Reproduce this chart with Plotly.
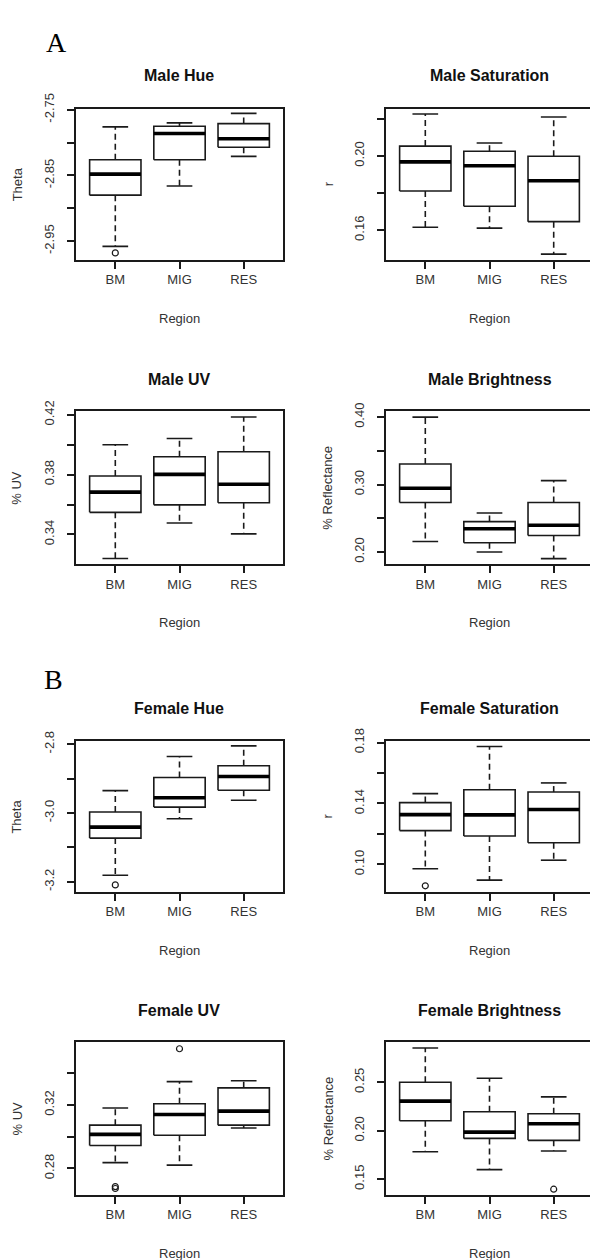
import plotly.graph_objects as go

regions = ["BM", "MIG", "RES"]

# ---- Male Hue (Theta)
male_hue_low = [-2.958, -2.866, -2.821]
male_hue_q1 = [-2.880, -2.826, -2.807]
male_hue_med = [-2.848, -2.786, -2.794]
male_hue_q3 = [-2.826, -2.775, -2.771]
male_hue_high = [-2.776, -2.770, -2.7555]
male_hue_out = [[-2.968], [], []]

# ---- Male Saturation (r)
male_sat_low = [0.1616, 0.1611, 0.1471]
male_sat_q1 = [0.1811, 0.1729, 0.1646]
male_sat_med = [0.1968, 0.1947, 0.1866]
male_sat_q3 = [0.2053, 0.2025, 0.1998]
male_sat_high = [0.2226, 0.2070, 0.2210]
male_sat_out = [[], [], []]

# ---- Male UV
male_uv_low = [0.3239, 0.3477, 0.3404]
male_uv_q1 = [0.3548, 0.3598, 0.3612]
male_uv_med = [0.3683, 0.3802, 0.3736]
male_uv_q3 = [0.3791, 0.3920, 0.3953]
male_uv_high = [0.4000, 0.4042, 0.4185]
male_uv_out = [[], [], []]

# ---- Male Brightness
male_br_low = [0.2156, 0.2000, 0.1902]
male_br_q1 = [0.2733, 0.2137, 0.2244]
male_br_med = [0.2946, 0.2344, 0.2396]
male_br_q3 = [0.3306, 0.2451, 0.2733]
male_br_high = [0.4000, 0.2578, 0.3059]
male_br_out = [[], [], []]

# ---- Female Hue
fem_hue_low = [-3.181, -3.017, -2.963]
fem_hue_q1 = [-3.073, -2.983, -2.934]
fem_hue_med = [-3.041, -2.956, -2.894]
fem_hue_q3 = [-2.997, -2.897, -2.863]
fem_hue_high = [-2.935, -2.836, -2.805]
fem_hue_out = [[-3.209], [], []]

# ---- Female Saturation
fem_sat_low = [0.0972, 0.0897, 0.1028]
fem_sat_q1 = [0.1222, 0.1187, 0.1142]
fem_sat_med = [0.1327, 0.1325, 0.1361]
fem_sat_q3 = [0.1406, 0.1490, 0.1475]
fem_sat_high = [0.1465, 0.1774, 0.1535]
fem_sat_out = [[0.0860], [], []]

# ---- Female UV
fem_uv_low = [0.2837, 0.2821, 0.3055]
fem_uv_q1 = [0.2945, 0.3009, 0.3073]
fem_uv_med = [0.3015, 0.3140, 0.3161]
fem_uv_q3 = [0.3073, 0.3208, 0.3308]
fem_uv_high = [0.3181, 0.3347, 0.3353]
fem_uv_out = [[0.2686, 0.2674], [0.3554], []]

# ---- Female Brightness
fem_br_low = [0.1784, 0.1599, 0.1791]
fem_br_q1 = [0.2103, 0.1921, 0.1901]
fem_br_med = [0.2305, 0.1986, 0.2072]
fem_br_q3 = [0.2500, 0.2195, 0.2175]
fem_br_high = [0.2853, 0.2541, 0.2349]
fem_br_out = [[], [], [0.1397]]

# ticks: all tick positions, and which ones get labels
male_hue_ticks = [-2.95, -2.90, -2.85, -2.80, -2.75]
male_hue_labels = ["-2.95", "", "-2.85", "", "-2.75"]
male_sat_ticks = [0.16, 0.18, 0.20, 0.22]
male_sat_labels = ["0.16", "", "0.20", ""]
male_uv_ticks = [0.34, 0.36, 0.38, 0.40, 0.42]
male_uv_labels = ["0.34", "", "0.38", "", "0.42"]
male_br_ticks = [0.20, 0.25, 0.30, 0.35, 0.40]
male_br_labels = ["0.20", "", "0.30", "", "0.40"]
fem_hue_ticks = [-3.2, -3.1, -3.0, -2.9, -2.8]
fem_hue_labels = ["-3.2", "", "-3.0", "", "-2.8"]
fem_sat_ticks = [0.10, 0.12, 0.14, 0.16, 0.18]
fem_sat_labels = ["0.10", "", "0.14", "", "0.18"]
fem_uv_ticks = [0.28, 0.30, 0.32, 0.34]
fem_uv_labels = ["0.28", "", "0.32", ""]
fem_br_ticks = [0.15, 0.20, 0.25]
fem_br_labels = ["0.15", "0.20", "0.25"]

W, H = 590, 1260
FONT = "Liberation Sans, Arial, sans-serif"
INK = "#1a1a1a"
TXT = "#333333"

# layout geometry in pixels: (left, right, top, bottom)
cols = [(75.5, 283.0), (385.5, 590.0)]
rows = [(94.0, 247.0), (400.3, 555.3), (734.5, 887.3), (1039.3, 1194.0)]
title_y = [60, 367.7, 701, 1007.7]
PX_PER_UNIT = 64.2  # x pixels per category step

panels = [
    dict(title="Male Hue", ylab="Theta", d=(male_hue_low, male_hue_q1, male_hue_med, male_hue_q3, male_hue_high, male_hue_out),
         ticks=male_hue_ticks, labels=male_hue_labels, yr=[-2.9786, -2.7485]),
    dict(title="Male Saturation", ylab="r", d=(male_sat_low, male_sat_q1, male_sat_med, male_sat_q3, male_sat_high, male_sat_out),
         ticks=male_sat_ticks, labels=male_sat_labels, yr=[0.1440, 0.2254]),
    dict(title="Male UV", ylab="% UV", d=(male_uv_low, male_uv_q1, male_uv_med, male_uv_q3, male_uv_high, male_uv_out),
         ticks=male_uv_ticks, labels=male_uv_labels, yr=[0.3201, 0.4224]),
    dict(title="Male Brightness", ylab="% Reflectance", d=(male_br_low, male_br_q1, male_br_med, male_br_q3, male_br_high, male_br_out),
         ticks=male_br_ticks, labels=male_br_labels, yr=[0.1818, 0.4088]),
    dict(title="Female Hue", ylab="Theta", d=(fem_hue_low, fem_hue_q1, fem_hue_med, fem_hue_q3, fem_hue_high, fem_hue_out),
         ticks=fem_hue_ticks, labels=fem_hue_labels, yr=[-3.2297, -2.7914]),
    dict(title="Female Saturation", ylab="r", d=(fem_sat_low, fem_sat_q1, fem_sat_med, fem_sat_q3, fem_sat_high, fem_sat_out),
         ticks=fem_sat_ticks, labels=fem_sat_labels, yr=[0.0819, 0.1809]),
    dict(title="Female UV", ylab="% UV", d=(fem_uv_low, fem_uv_q1, fem_uv_med, fem_uv_q3, fem_uv_high, fem_uv_out),
         ticks=fem_uv_ticks, labels=fem_uv_labels, yr=[0.2634, 0.3596]),
    dict(title="Female Brightness", ylab="% Reflectance", d=(fem_br_low, fem_br_q1, fem_br_med, fem_br_q3, fem_br_high, fem_br_out),
         ticks=fem_br_ticks, labels=fem_br_labels, yr=[0.1339, 0.2914]),
]

fig = go.Figure()
layout = {}
annotations = []
BOX_HALF = 0.4
CAP_HALF = 0.2

for k, p in enumerate(panels):
    r, c = divmod(k, 2)
    left, right = cols[c]
    top, bottom = rows[r]
    ax = "" if k == 0 else str(k + 1)
    xref, yref = "x" + ax, "y" + ax
    low, q1, med, q3, high, outs = p["d"]
    xs = [i + 1 for i in range(len(regions))]

    bx, by, mx, my, wx, wy, sx, sy, ox, oy = [], [], [], [], [], [], [], [], [], []
    for i, x in enumerate(xs):
        bx += [x - BOX_HALF, x + BOX_HALF, x + BOX_HALF, x - BOX_HALF, x - BOX_HALF, None]
        by += [q1[i], q1[i], q3[i], q3[i], q1[i], None]
        mx += [x - BOX_HALF, x + BOX_HALF, None]
        my += [med[i], med[i], None]
        wx += [x, x, None, x, x, None]
        wy += [q3[i], high[i], None, q1[i], low[i], None]
        sx += [x - CAP_HALF, x + CAP_HALF, None, x - CAP_HALF, x + CAP_HALF, None]
        sy += [high[i], high[i], None, low[i], low[i], None]
        for v in outs[i]:
            ox.append(x)
            oy.append(v)

    common = dict(xaxis=xref, yaxis=yref, showlegend=False, hoverinfo="skip")
    fig.add_trace(go.Scatter(x=wx, y=wy, mode="lines", line=dict(color=INK, width=1.6, dash="6px,4px"), **common))
    fig.add_trace(go.Scatter(x=sx, y=sy, mode="lines", line=dict(color=INK, width=1.6), **common))
    fig.add_trace(go.Scatter(x=bx, y=by, mode="lines", line=dict(color=INK, width=1.6), **common))
    fig.add_trace(go.Scatter(x=mx, y=my, mode="lines", line=dict(color="#000000", width=3.6), **common))
    if ox:
        fig.add_trace(go.Scatter(x=ox, y=oy, mode="markers",
                                 marker=dict(symbol="circle-open", size=6, color=INK, line=dict(width=1.2)), **common))

    # x range so that categories sit at the same pixel spacing
    x0 = 1 - 0.62
    x1 = x0 + (right - left) / PX_PER_UNIT
    layout["xaxis" + ax] = dict(
        domain=[left / W, right / W], anchor=yref, range=[x0, x1],
        tickvals=xs, ticktext=regions, ticks="outside", ticklen=7, tickwidth=1.5, tickcolor=INK,
        showline=True, linecolor=INK, linewidth=1.5, mirror=True, showgrid=False, zeroline=False,
        tickfont=dict(family=FONT, size=13, color=TXT), fixedrange=True,
    )
    layout["yaxis" + ax] = dict(
        domain=[1 - bottom / H, 1 - top / H], anchor=xref, range=p["yr"],
        tickvals=p["ticks"], ticktext=p["labels"], tickangle=-90,
        ticks="outside", ticklen=7, tickwidth=1.5, tickcolor=INK, ticklabelstandoff=8,
        showline=True, linecolor=INK, linewidth=1.5, mirror=(c == 0), showgrid=False, zeroline=False,
        tickfont=dict(family=FONT, size=13, color=TXT), fixedrange=True,
    )

    cx = (left + (cols[c][0] + 208)) / 2 if c == 1 else (left + right) / 2
    annotations.append(dict(text="<b>%s</b>" % p["title"], x=cx / W, y=1 - title_y[r] / H, xref="paper", yref="paper",
                            showarrow=False, xanchor="center", yanchor="middle",
                            font=dict(family=FONT, size=16, color="#111111")))
    annotations.append(dict(text="Region", x=cx / W, y=1 - (bottom + 59) / H, xref="paper", yref="paper",
                            showarrow=False, xanchor="center", yanchor="middle",
                            font=dict(family=FONT, size=13, color=TXT)))
    ylx = 17 if c == 0 else 328
    annotations.append(dict(text=p["ylab"], x=ylx / W, y=1 - (top + bottom) / 2 / H, xref="paper", yref="paper",
                            showarrow=False, xanchor="center", yanchor="middle", textangle=-90,
                            font=dict(family=FONT, size=13, color=TXT)))

annotations.append(dict(text="A", x=56 / W, y=1 - 27 / H, xref="paper", yref="paper", showarrow=False,
                        xanchor="center", yanchor="middle", font=dict(family="Liberation Serif, Times New Roman, serif", size=28, color="#000000")))
annotations.append(dict(text="B", x=53 / W, y=1 - 672 / H, xref="paper", yref="paper", showarrow=False,
                        xanchor="center", yanchor="middle", font=dict(family="Liberation Serif, Times New Roman, serif", size=28, color="#000000")))

fig.update_layout(**layout)
fig.update_layout(
    width=W, height=H, margin=dict(l=0, r=0, t=0, b=0),
    paper_bgcolor="white", plot_bgcolor="white",
    annotations=annotations, showlegend=False,
)

fig.write_html("out.html", config={"displayModeBar": False})
